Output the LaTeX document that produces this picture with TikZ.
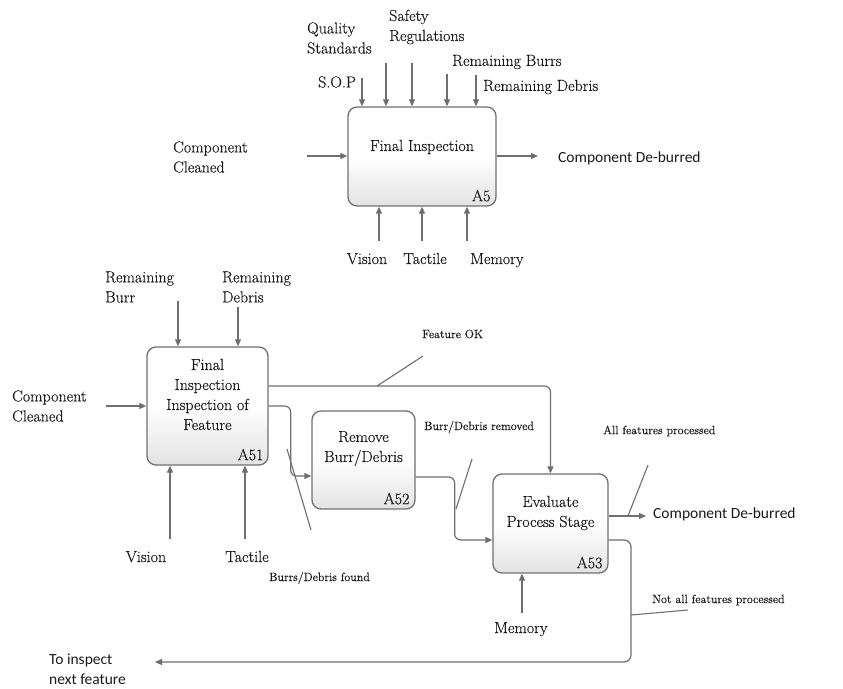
\documentclass[tikz,border=0pt]{standalone}
\usepackage{fontspec}
\setmainfont{Latin Modern Roman}[FakeBold=0.35]
\newfontfamily\carl{Carlito}
\usetikzlibrary{arrows.meta}
\definecolor{lc}{HTML}{6E6E6E}
\definecolor{bc}{HTML}{707070}
\definecolor{tc}{HTML}{1A1A1A}
\tikzset{
  box/.style={draw=bc, line width=1.3pt, rounded corners=9pt, top color=white, bottom color=black!11, middle color=white, inner sep=0pt},
  btext/.style={font=\fontsize{16}{20}\selectfont, text=tc, align=center, inner sep=0pt},
  idl/.style={font=\fontsize{16}{20}\selectfont, text=tc, inner sep=0pt, anchor=south east},
  lab/.style={font=\fontsize{16}{20}\selectfont, text=tc, align=left, inner sep=0pt},
  blab/.style={font=\fontsize{16}{20}\selectfont, text=tc, inner sep=0pt, anchor=base},
  slab/.style={font=\fontsize{12}{14}\selectfont, text=tc, align=left, inner sep=0pt, anchor=west},
  sans/.style={font=\carl\fontsize{15.5}{20}\selectfont, text=tc, align=left, inner sep=0pt, anchor=west},
  conn/.style={draw=lc, line width=1.2pt, -{Triangle[length=7pt,width=6pt]}},
  tick/.style={draw=lc, line width=1.1pt},
}
\begin{document}
\begin{tikzpicture}[x=1pt,y=-1pt]
\useasboundingbox (0,0) rectangle (843,688);

% ---------- A5 ----------
\node[box, minimum width=148pt, minimum height=99pt] (a5) at (422,156.5) {};
\node[btext] (a5t) at (422,147) {Final Inspection};
\node[idl] (a5id) at ([xshift=-6pt,yshift=5pt]a5.south east) {A5};

\node[lab, anchor=west] (qs) at (307,38) {Quality\\Standards};
\node[lab, anchor=west] (sr) at (389,27) {Safety\\Regulations};
\node[lab, anchor=west] (sop) at (318,82) {S.O.P};
\node[lab, anchor=west] (rb) at (452,62) {Remaining Burrs};
\node[lab, anchor=west] (rd) at (483,87) {Remaining Debris};
\node[lab, anchor=west] (cc1) at (173,157) {Component\\Cleaned};
\node[sans] (cd1) at (558,158) {Component De-burred};
\node[blab] (vis1) at (367,264) {Vision};
\node[blab] (tac1) at (425,264) {Tactile};
\node[blab] (mem1) at (497,264) {Memory};

\coordinate (t1) at (362,78);
\coordinate (t2) at (386,63);
\coordinate (t3) at (412,63);
\coordinate (t4) at (447,74);
\coordinate (t5) at (476,75);
\foreach \c in {t1,t2,t3,t4,t5}{\draw[conn] (\c) -- (\c |- a5.north);}
\coordinate (in1) at (307,156);
\draw[conn] (in1) -- (in1 -| a5.west);
\coordinate (out1) at (538,156);
\draw[conn] (out1 -| a5.east) -- (out1);
\coordinate (b1) at (379,241);
\coordinate (b2) at (422,241);
\coordinate (b3) at (467,241);
\foreach \c in {b1,b2,b3}{\draw[conn] (\c) -- (\c |- a5.south);}

% ---------- lower diagram ----------
\node[box, minimum width=121pt, minimum height=118pt] (a51) at (207.5,406) {};
\node[btext] (a51t) at (207.5,394.5) {Final\\Inspection\\Inspection of\\Feature};
\node[idl] (a51id) at ([xshift=-5pt,yshift=5pt]a51.south east) {A51};

\node[box, minimum width=103pt, minimum height=98pt] (a52) at (363.5,460) {};
\node[btext] (a52t) at (363.5,448.5) {Remove\\Burr/Debris};
\node[idl] (a52id) at ([xshift=-6pt,yshift=5pt]a52.south east) {A52};

\node[box, minimum width=115pt, minimum height=99pt] (a53) at (550.5,523.5) {};
\node[btext] (a53t) at (550.5,513) {Evaluate\\Process Stage};
\node[idl] (a53id) at ([xshift=-6pt,yshift=5pt]a53.south east) {A53};

\node[lab, anchor=west] (rb2) at (105,287) {Remaining\\Burr};
\node[lab, anchor=west] (rd2) at (222,287) {Remaining\\Debris};
\node[lab, anchor=west] (cc2) at (12,406) {Component\\Cleaned};
\node[blab] (vis2) at (146,562) {Vision};
\node[blab] (tac2) at (247,562) {Tactile};
\node[blab] (mem2) at (521,633) {Memory};
\node[slab] (bdf) at (269,578) {Burrs/Debris found};
\node[slab] (fok) at (422,334) {Feature OK};
\node[slab] (bdr) at (424,427) {Burr/Debris removed};
\node[slab] (afp) at (603,431) {All features processed};
\node[slab] (nafp) at (652,600) {Not all features processed};
\node[sans] (cd2) at (653,514) {Component De-burred};
\node[sans] (tin) at (49,669) {To inspect\\next feature};

% controls / mechanisms
\coordinate (u1) at (178,301);
\coordinate (u2) at (238,307);
\foreach \c in {u1,u2}{\draw[conn] (\c) -- (\c |- a51.north);}
\coordinate (m1) at (170,539);
\coordinate (m2) at (245,539);
\foreach \c in {m1,m2}{\draw[conn] (\c) -- (\c |- a51.south);}
\coordinate (m3) at (522,613);
\draw[conn] (m3) -- (m3 |- a53.south);
\coordinate (in2) at (106,406);
\draw[conn] (in2) -- (in2 -| a51.west);

% Feature OK
\draw[conn, rounded corners=6pt] ([yshift=20pt]a51.east) -- ([yshift=20pt]a51.east -| a53.north) -- (a53.north);
\coordinate (fk1) at (377,386);
\coordinate (fk2) at (423,356);
\draw[tick] (fk1) -- (fk2);

% Burrs/Debris found
\draw[conn, rounded corners=6pt] (a51.east) -- ++(22,0) |- ([yshift=-16pt]a52.west);
\coordinate (bf1) at (287,449);
\coordinate (bf2) at (311,530);
\draw[tick] (bf1) -- (bf2);

% Burr/Debris removed
\draw[conn, rounded corners=6pt] ([yshift=-17pt]a52.east) -- ++(39,0) |- ([yshift=-16.5pt]a53.west);
\coordinate (br1) at (456,509);
\coordinate (br2) at (472,459);
\draw[tick] (br1) -- (br2);

% Output of A53
\coordinate (out2) at (646,516);
\draw[conn] (out2 -| a53.east) -- (out2);
\coordinate (ap1) at (628,516);
\coordinate (ap2) at (648,465);
\draw[tick] (ap1) -- (ap2);

% Not all features processed
\coordinate (back) at (155,662);
\draw[conn, rounded corners=7pt] ([yshift=-16.5pt]a53.east) -- (631,540) -- (631,662) -- (back);
\coordinate (np1) at (631,615);
\coordinate (np2) at (688,610);
\draw[tick] (np1) -- (np2);
\end{tikzpicture}
\end{document}
